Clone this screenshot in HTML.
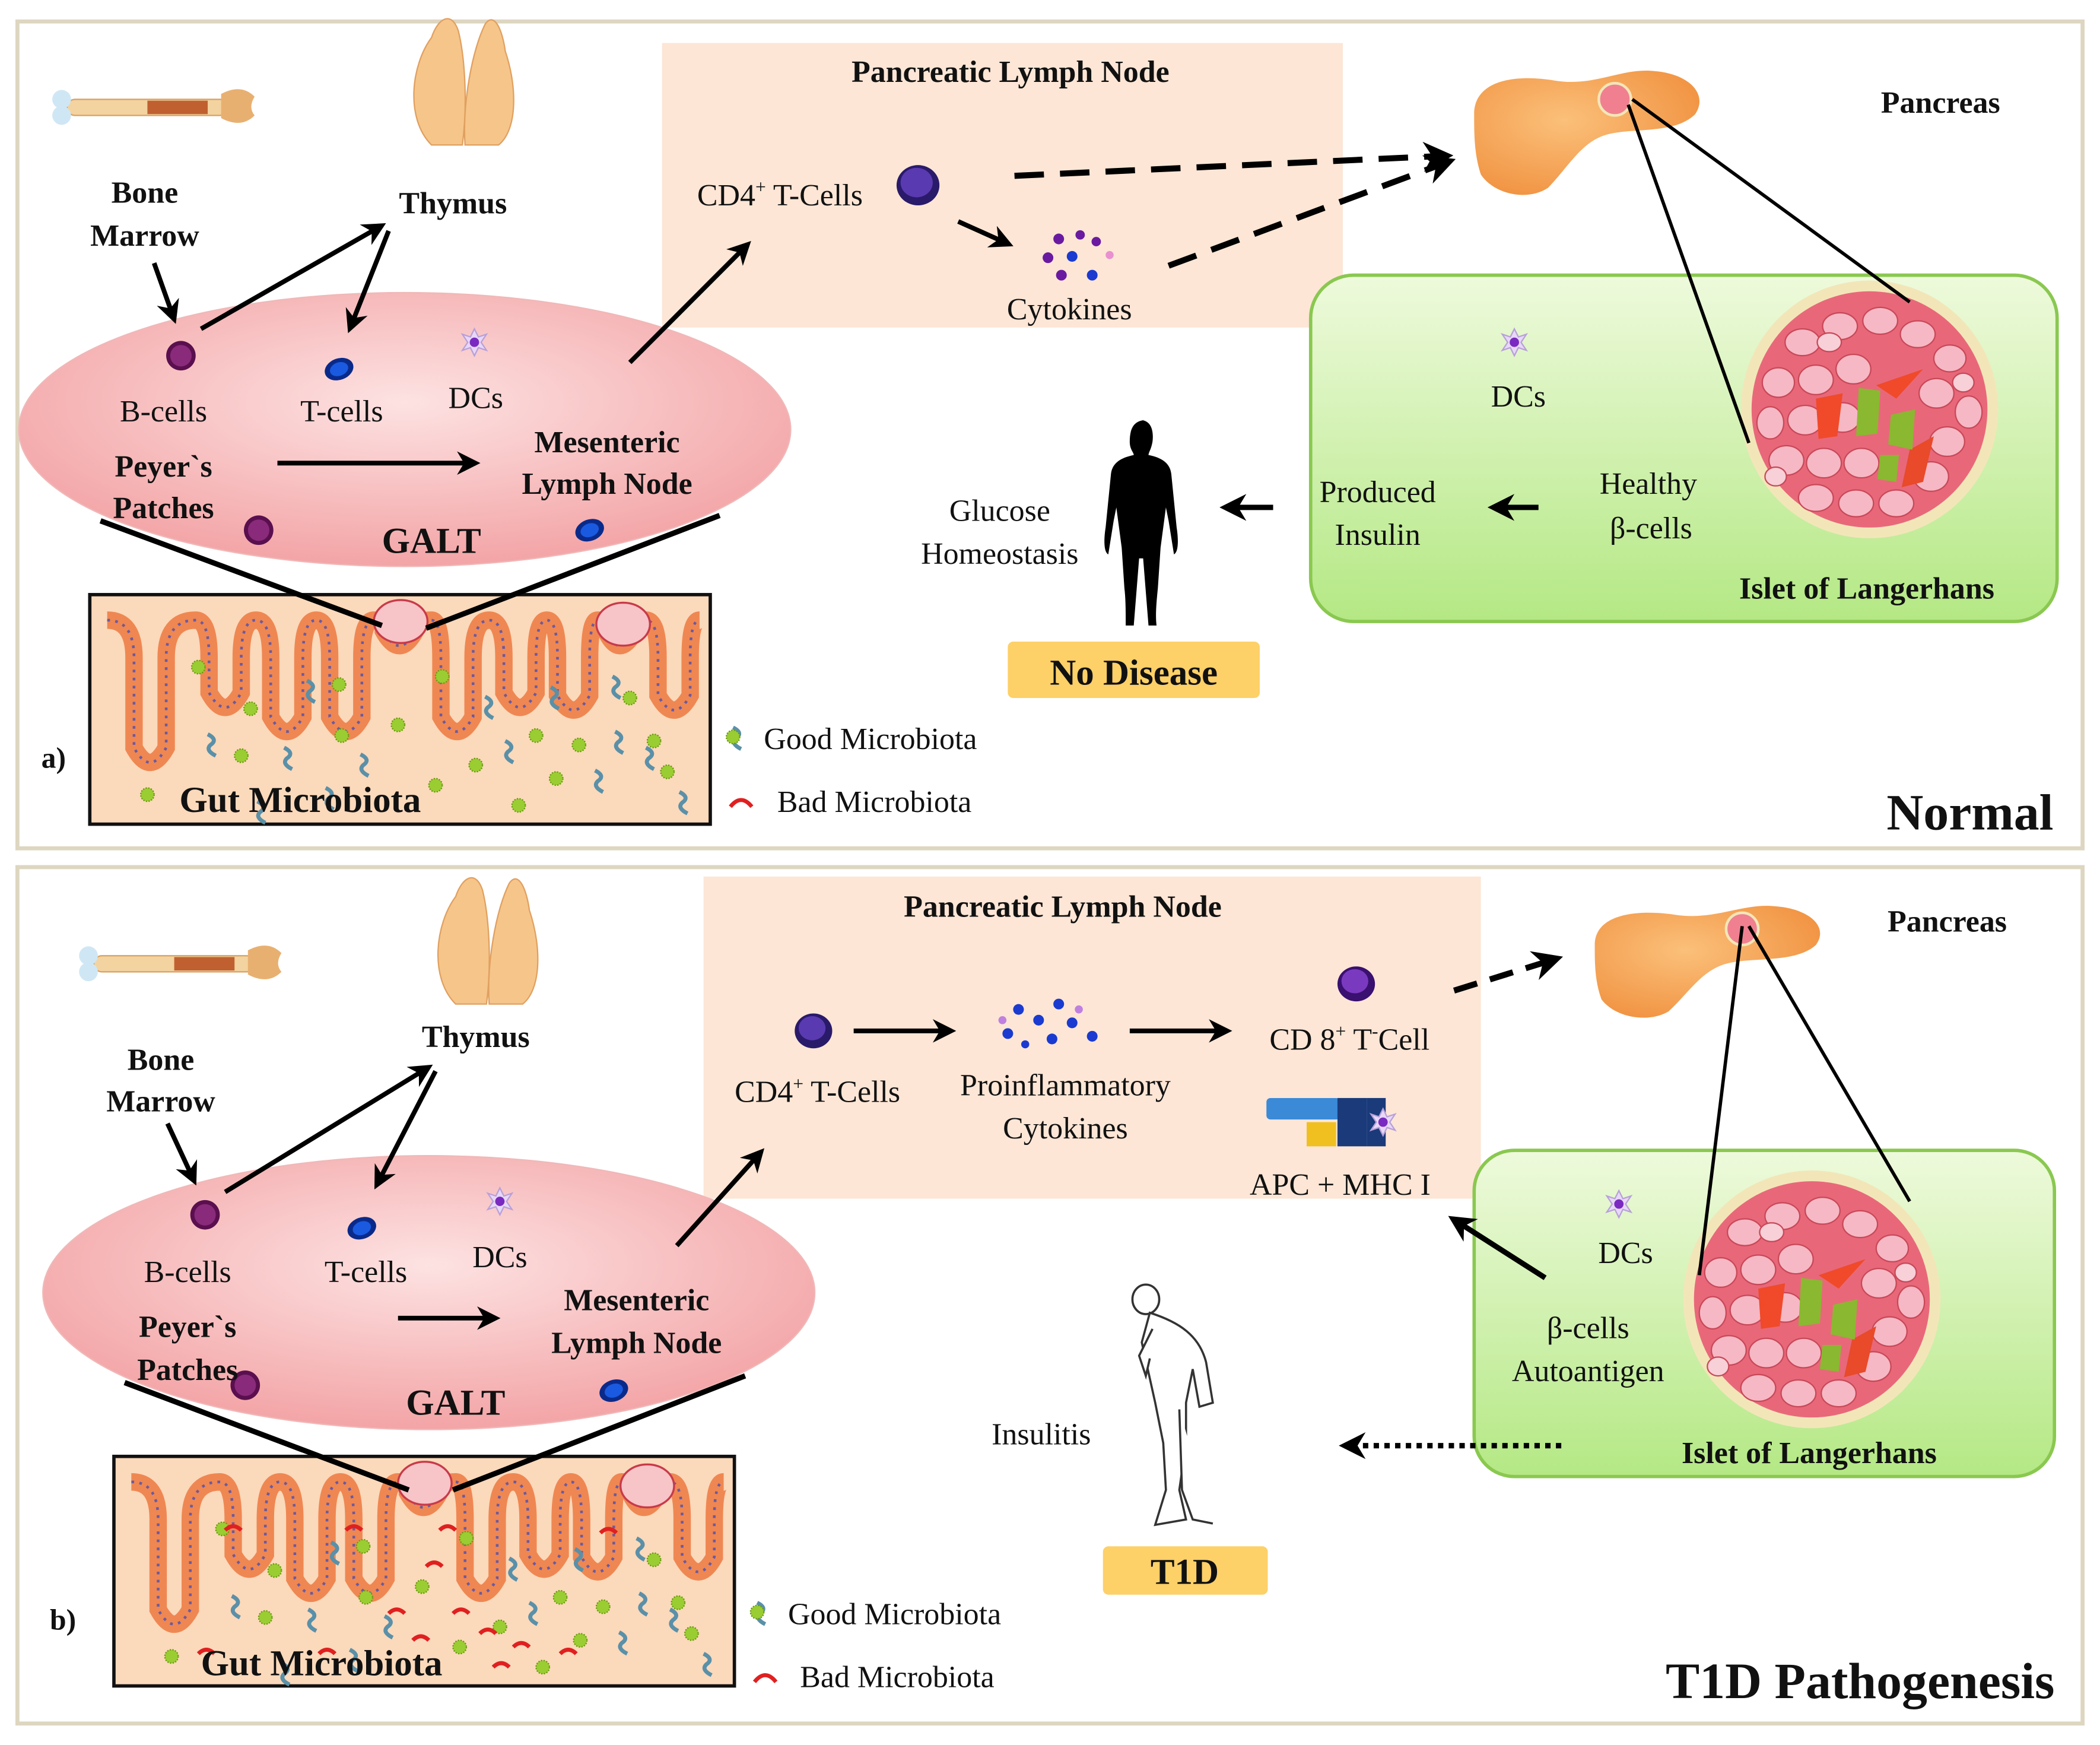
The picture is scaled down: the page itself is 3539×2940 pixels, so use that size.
<!DOCTYPE html>
<html><head><meta charset="utf-8"><style>
html,body{margin:0;padding:0;background:#fff;}
svg{display:block;}
text{font-family:"Liberation Serif",serif;fill:#111;}
.b{font-weight:bold;}
</style></head><body>
<svg width="3539" height="2940" viewBox="0 0 1567 1300" preserveAspectRatio="none" xmlns="http://www.w3.org/2000/svg">
<defs>
<marker id="ah" viewBox="0 0 10 10" refX="8" refY="5" markerWidth="5" markerHeight="5" orient="auto"><path d="M0,0 L10,5 L0,10 L3,5 z" fill="#000"/></marker>
<radialGradient id="galt" cx="50%" cy="40%" r="60%"><stop offset="0" stop-color="#fde2e2"/><stop offset="1" stop-color="#f3a4a6"/></radialGradient>
<linearGradient id="grn" x1="0" y1="0" x2="0" y2="1"><stop offset="0" stop-color="#eefadc"/><stop offset="1" stop-color="#b4e884"/></linearGradient>
<radialGradient id="pan" cx="40%" cy="40%" r="70%"><stop offset="0" stop-color="#fbc07a"/><stop offset="1" stop-color="#f0903e"/></radialGradient>
<g id="bone"><rect x="10" y="10" width="120" height="12" rx="6" fill="#f3d3a0" stroke="#d9a060"/><rect x="70" y="11" width="45" height="10" fill="#c06030"/><circle cx="6" cy="10" r="7" fill="#cfe7f5"/><circle cx="6" cy="22" r="7" fill="#cfe7f5"/><path d="M125,6 q15,-8 25,2 q-5,8 0,14 q-10,10 -25,2z" fill="#e8b070"/></g>
<g id="thymus"><path d="M15,100 C-5,80 0,40 15,20 C20,5 30,0 35,15 C40,35 42,70 38,100 Z" fill="#f6c58a" stroke="#e0a060"/><path d="M40,100 C38,70 45,30 55,10 C62,0 68,15 70,30 C80,60 78,90 65,100 Z" fill="#f6c58a" stroke="#e0a060"/></g>
<g id="bcell"><circle r="11" fill="#5a0f4e"/><circle r="8" fill="#8a2a7a"/></g>
<g id="tcell"><ellipse rx="11" ry="8" fill="#0a2a8a" transform="rotate(-20)"/><ellipse rx="7" ry="5" fill="#1a5ae0" transform="rotate(-20)"/></g>
<g id="dc"><path d="M0,-10 L3,-4 9,-6 5,0 9,6 3,4 0,10 -3,4 -9,6 -5,0 -9,-6 -3,-4z" fill="#e8d8f8" stroke="#b8a0d8"/><circle r="3.5" fill="#7a2ac0"/></g>
<g id="villi">
<path d="M80,462 Q100,462 100,490 L100,557 Q112,579 124,557 L124,490 Q124,462 146,462 Q156,462 156,490 L156,516 Q168,538 180,516 L180,490 Q180,462 191,462 Q202,462 202,490 L202,534 Q214,556 226,534 L226,490 Q226,462 236,462 Q246,462 246,490 L246,534 Q258,556 270,534 L270,490 Q270,462 279,462 Q286,462 286,470 Q298,492 310,470 Q310,462 322,462 Q329,462 329,490 L329,534 Q341,556 353,534 L353,490 Q353,462 365,462 Q376,462 376,490 L376,516 Q388,538 400,516 L400,490 Q400,462 408,462 Q416,462 416,490 L416,518 Q428,540 440,518 L440,490 Q440,462 446,462 Q452,462 452,470 Q462,492 474,470 Q474,462 482,462 Q491,462 491,490 L491,518 Q503,540 515,518 L515,490 Q515,462 522,462" fill="none" stroke="#ef8752" stroke-width="13"/>
<path d="M80,462 Q100,462 100,490 L100,557 Q112,579 124,557 L124,490 Q124,462 146,462 Q156,462 156,490 L156,516 Q168,538 180,516 L180,490 Q180,462 191,462 Q202,462 202,490 L202,534 Q214,556 226,534 L226,490 Q226,462 236,462 Q246,462 246,490 L246,534 Q258,556 270,534 L270,490 Q270,462 279,462 Q286,462 286,470 Q298,492 310,470 Q310,462 322,462 Q329,462 329,490 L329,534 Q341,556 353,534 L353,490 Q353,462 365,462 Q376,462 376,490 L376,516 Q388,538 400,516 L400,490 Q400,462 408,462 Q416,462 416,490 L416,518 Q428,540 440,518 L440,490 Q440,462 446,462 Q452,462 452,470 Q462,492 474,470 Q474,462 482,462 Q491,462 491,490 L491,518 Q503,540 515,518 L515,490 Q515,462 522,462" fill="none" stroke="#6a5aa0" stroke-width="2" stroke-dasharray="2 4"/>
<ellipse cx="299" cy="463" rx="20" ry="16" fill="#f7c4c8" stroke="#c83a4a" stroke-width="1.5"/>
<ellipse cx="465" cy="465" rx="20" ry="16" fill="#f7c4c8" stroke="#c83a4a" stroke-width="1.5"/>
</g>
<g id="g"><circle r="5" fill="#9acd32" stroke="#6a9a10" stroke-dasharray="1 1"/></g>
<g id="r"><path d="M-3,-8 q8,4 2,8 q-4,4 4,8" fill="none" stroke="#5a90a8" stroke-width="3"/></g>
<g id="microbes">
<use href="#g" x="148" y="497"/><use href="#g" x="187" y="528"/><use href="#g" x="253" y="510"/><use href="#g" x="255" y="548"/><use href="#g" x="297" y="540"/><use href="#g" x="325" y="585"/><use href="#g" x="355" y="570"/><use href="#g" x="387" y="600"/><use href="#g" x="415" y="580"/><use href="#g" x="432" y="555"/><use href="#g" x="470" y="520"/><use href="#g" x="488" y="552"/><use href="#g" x="498" y="575"/><use href="#g" x="180" y="563"/><use href="#g" x="110" y="592"/><use href="#g" x="330" y="504"/><use href="#g" x="400" y="548"/>
<use href="#r" x="232" y="515"/><use href="#r" x="158" y="555"/><use href="#r" x="215" y="565"/><use href="#r" x="272" y="570"/><use href="#r" x="365" y="527"/><use href="#r" x="414" y="520"/><use href="#r" x="460" y="512"/><use href="#r" x="462" y="553"/><use href="#r" x="447" y="582"/><use href="#r" x="510" y="598"/><use href="#r" x="380" y="560"/><use href="#r" x="246" y="595"/><use href="#r" x="195" y="605"/><use href="#r" x="485" y="565"/>
</g>
<g id="islet">
<circle r="96" fill="#f2e6b8"/><circle r="88" fill="#e8687a"/>
<g fill="#f6b8c4" stroke="#c84858" stroke-width="1">
<ellipse cx="-50" cy="-50" rx="13" ry="10"/><ellipse cx="-22" cy="-62" rx="13" ry="10"/><ellipse cx="8" cy="-66" rx="13" ry="10"/><ellipse cx="36" cy="-56" rx="13" ry="10"/><ellipse cx="60" cy="-38" rx="12" ry="10"/>
<ellipse cx="-68" cy="-20" rx="12" ry="11"/><ellipse cx="-40" cy="-22" rx="13" ry="11"/><ellipse cx="-12" cy="-30" rx="13" ry="11"/><ellipse cx="50" cy="-12" rx="13" ry="11"/><ellipse cx="74" cy="2" rx="10" ry="12"/>
<ellipse cx="-74" cy="10" rx="10" ry="12"/><ellipse cx="-48" cy="8" rx="13" ry="11"/><ellipse cx="-20" cy="6" rx="13" ry="11"/><ellipse cx="58" cy="24" rx="13" ry="11"/>
<ellipse cx="-62" cy="38" rx="13" ry="11"/><ellipse cx="-34" cy="40" rx="13" ry="11"/><ellipse cx="-6" cy="40" rx="13" ry="11"/><ellipse cx="46" cy="50" rx="13" ry="11"/>
<ellipse cx="-40" cy="66" rx="13" ry="10"/><ellipse cx="-10" cy="70" rx="13" ry="10"/><ellipse cx="20" cy="70" rx="13" ry="10"/>
</g>
<g fill="#f7d0d8" stroke="#c84858"><ellipse cx="-30" cy="-50" rx="9" ry="7"/><ellipse cx="-70" cy="50" rx="8" ry="7"/><ellipse cx="70" cy="-20" rx="8" ry="7"/></g>
<path d="M5,-18 L40,-30 20,-8 z" fill="#f04a2a"/><path d="M-40,-8 L-20,-12 -24,20 -38,22z" fill="#f04a2a"/><path d="M30,30 L48,20 40,54 24,58z" fill="#e84a2a"/>
<path d="M-8,-16 L8,-14 6,18 -10,20z" fill="#8ab830"/><path d="M16,4 L34,0 32,30 14,26z" fill="#8ab830"/><path d="M8,34 L22,34 20,54 6,52z" fill="#8ab830"/>
</g>
<path id="panc" d="M0,40 C0,15 30,10 60,15 C90,20 110,5 135,8 C160,10 175,25 165,40 C150,55 120,50 100,55 C80,60 70,80 55,95 C40,105 15,100 5,85 C0,70 0,55 0,40z"/>
</defs>

<!-- PANEL A -->
<rect x="13" y="16" width="1541" height="616" fill="#fff" stroke="#ddd6c0" stroke-width="3"/>
<rect x="494" y="32" width="508" height="212" fill="#fde6d6"/>
<use href="#bone" x="40" y="64"/>
<use href="#thymus" x="307" y="8"/>
<text x="108" y="151" font-size="23" text-anchor="middle" class="b">Bone</text>
<text x="108" y="183" font-size="23" text-anchor="middle" class="b">Marrow</text>
<text x="338" y="159" font-size="23" text-anchor="middle" class="b">Thymus</text>
<ellipse cx="302" cy="320" rx="288" ry="102" fill="url(#galt)" stroke="#f0b8b8"/>
<line x1="115" y1="196" x2="130" y2="238" stroke="#000" stroke-width="3.5" marker-end="url(#ah)"/>
<line x1="150" y1="245" x2="285" y2="168" stroke="#000" stroke-width="3.5" marker-end="url(#ah)"/>
<line x1="290" y1="172" x2="261" y2="245" stroke="#000" stroke-width="3.5" marker-end="url(#ah)"/>
<line x1="207" y1="345" x2="355" y2="345" stroke="#000" stroke-width="3.5" marker-end="url(#ah)"/>
<line x1="470" y1="270" x2="558" y2="182" stroke="#000" stroke-width="3.5" marker-end="url(#ah)"/>
<use href="#bcell" x="135" y="265"/><use href="#tcell" x="253" y="275"/><use href="#dc" x="354" y="255"/><use href="#bcell" x="193" y="395"/><use href="#tcell" x="440" y="395"/>
<text x="122" y="314" font-size="23" text-anchor="middle">B-cells</text>
<text x="255" y="314" font-size="23" text-anchor="middle">T-cells</text>
<text x="355" y="304" font-size="23" text-anchor="middle">DCs</text>
<text x="122" y="355" font-size="23" text-anchor="middle" class="b">Peyer`s</text>
<text x="122" y="386" font-size="23" text-anchor="middle" class="b">Patches</text>
<text x="453" y="337" font-size="23" text-anchor="middle" class="b">Mesenteric</text>
<text x="453" y="368" font-size="23" text-anchor="middle" class="b">Lymph Node</text>
<text x="322" y="412" font-size="27" text-anchor="middle" class="b">GALT</text>
<rect x="67" y="443" width="463" height="171" fill="#fbd9bb" stroke="#111" stroke-width="2.5"/>
<use href="#villi"/><use href="#microbes"/>
<line x1="75" y1="388" x2="285" y2="466" stroke="#000" stroke-width="4"/>
<line x1="537" y1="384" x2="318" y2="468" stroke="#000" stroke-width="4"/>
<text x="224" y="605" font-size="27" text-anchor="middle" class="b">Gut Microbiota</text>
<text x="40" y="572" font-size="22" text-anchor="middle" class="b">a)</text>
<use href="#r" x="550" y="550"/><use href="#g" x="547" y="549"/>
<text x="570" y="558" font-size="23">Good Microbiota</text>
<path d="M545,601 q8,-10 16,0" fill="none" stroke="#e02020" stroke-width="3"/>
<text x="580" y="605" font-size="23">Bad Microbiota</text>
<!-- PLN a -->
<text x="754" y="61" font-size="23" text-anchor="middle" class="b">Pancreatic Lymph Node</text>
<text x="582" y="153" font-size="23" text-anchor="middle">CD4<tspan font-size="14" dy="-9">+</tspan><tspan dy="9"> T-Cells</tspan></text>
<ellipse cx="685" cy="138" rx="16" ry="15" fill="#2a1a6a"/><ellipse cx="684" cy="136" rx="12" ry="11" fill="#5a3ab0"/>
<line x1="715" y1="165" x2="753" y2="182" stroke="#000" stroke-width="3.5" marker-end="url(#ah)"/>
<g fill="#6a1aa0"><circle cx="790" cy="178" r="4"/><circle cx="806" cy="175" r="3.5"/><circle cx="818" cy="180" r="3.5"/><circle cx="782" cy="192" r="4"/><circle cx="800" cy="191" r="4" fill="#1a3ad0"/><circle cx="815" cy="205" r="4" fill="#1a3ad0"/><circle cx="792" cy="205" r="4"/><circle cx="828" cy="190" r="3" fill="#e890d0"/></g>
<text x="798" y="238" font-size="23" text-anchor="middle">Cytokines</text>
<line x1="757" y1="131" x2="1080" y2="116" stroke="#000" stroke-width="4.5" stroke-dasharray="22 12" marker-end="url(#ah)"/>
<line x1="872" y1="198" x2="1082" y2="120" stroke="#000" stroke-width="4.5" stroke-dasharray="22 12" marker-end="url(#ah)"/>
<use href="#panc" x="1100" y="45" fill="url(#pan)"/>
<circle cx="1205" cy="74" r="12" fill="#f08090" stroke="#f2e6b8" stroke-width="2"/>
<text x="1448" y="84" font-size="23" text-anchor="middle" class="b">Pancreas</text>
<rect x="978" y="205" width="557" height="258" rx="32" fill="url(#grn)" stroke="#8ac850" stroke-width="2.5"/>
<use href="#islet" x="1395" y="305"/>
<line x1="1215" y1="78" x2="1305" y2="330" stroke="#000" stroke-width="2.5"/>
<line x1="1218" y1="74" x2="1425" y2="225" stroke="#000" stroke-width="2.5"/>
<use href="#dc" x="1130" y="255"/>
<text x="1133" y="303" font-size="23" text-anchor="middle">DCs</text>
<text x="1230" y="368" font-size="23" text-anchor="middle">Healthy</text>
<text x="1232" y="401" font-size="23" text-anchor="middle">β-cells</text>
<text x="1028" y="374" font-size="23" text-anchor="middle">Produced</text>
<text x="1028" y="406" font-size="23" text-anchor="middle">Insulin</text>
<text x="1393" y="446" font-size="23" text-anchor="middle" class="b">Islet of Langerhans</text>
<line x1="1148" y1="378" x2="1114" y2="378" stroke="#000" stroke-width="4" marker-end="url(#ah)"/>
<line x1="950" y1="378" x2="914" y2="378" stroke="#000" stroke-width="4" marker-end="url(#ah)"/>
<path d="M851,313 c8,0 10,8 9,16 c-1,6 -3,8 -3,10 c10,2 16,6 17,14 l4,40 c1,6 2,18 -2,20 l-4,-25 -2,-10 -4,30 -2,30 c-1,10 -2,20 -1,28 l-6,0 -4,-50 -3,0 -4,50 -6,0 c0,-10 0,-20 -1,-28 l-2,-30 -4,-30 -2,10 -4,25 c-4,-2 -3,-14 -2,-20 l4,-40 c1,-8 7,-12 17,-14 c0,-2 -3,-4 -3,-10 c0,-8 2,-16 12,-16z" fill="#000"/>
<text x="746" y="388" font-size="23" text-anchor="middle">Glucose</text>
<text x="746" y="420" font-size="23" text-anchor="middle">Homeostasis</text>
<rect x="752" y="478" width="188" height="42" rx="4" fill="#fdd068"/>
<text x="846" y="510" font-size="27" text-anchor="middle" class="b">No Disease</text>
<text x="1470" y="618" font-size="38" text-anchor="middle" class="b">Normal</text>

<!-- PANEL B -->
<rect x="13" y="646" width="1541" height="638" fill="#fff" stroke="#ddd6c0" stroke-width="3"/>
<rect x="525" y="653" width="580" height="240" fill="#fde6d6"/>
<use href="#bone" x="60" y="702"/>
<use href="#thymus" x="325" y="648"/>
<text x="120" y="797" font-size="23" text-anchor="middle" class="b">Bone</text>
<text x="120" y="828" font-size="23" text-anchor="middle" class="b">Marrow</text>
<text x="355" y="780" font-size="23" text-anchor="middle" class="b">Thymus</text>
<ellipse cx="320" cy="963" rx="288" ry="102" fill="url(#galt)" stroke="#f0b8b8"/>
<line x1="125" y1="837" x2="145" y2="880" stroke="#000" stroke-width="3.5" marker-end="url(#ah)"/>
<line x1="168" y1="888" x2="320" y2="795" stroke="#000" stroke-width="3.5" marker-end="url(#ah)"/>
<line x1="325" y1="798" x2="281" y2="883" stroke="#000" stroke-width="3.5" marker-end="url(#ah)"/>
<line x1="297" y1="982" x2="370" y2="982" stroke="#000" stroke-width="3.5" marker-end="url(#ah)"/>
<line x1="505" y1="928" x2="568" y2="858" stroke="#000" stroke-width="3.5" marker-end="url(#ah)"/>
<use href="#bcell" x="153" y="905"/><use href="#tcell" x="270" y="915"/><use href="#dc" x="373" y="895"/><use href="#bcell" x="183" y="1032"/><use href="#tcell" x="458" y="1036"/>
<text x="140" y="955" font-size="23" text-anchor="middle">B-cells</text>
<text x="273" y="955" font-size="23" text-anchor="middle">T-cells</text>
<text x="373" y="944" font-size="23" text-anchor="middle">DCs</text>
<text x="140" y="996" font-size="23" text-anchor="middle" class="b">Peyer`s</text>
<text x="140" y="1028" font-size="23" text-anchor="middle" class="b">Patches</text>
<text x="475" y="976" font-size="23" text-anchor="middle" class="b">Mesenteric</text>
<text x="475" y="1008" font-size="23" text-anchor="middle" class="b">Lymph Node</text>
<text x="340" y="1054" font-size="27" text-anchor="middle" class="b">GALT</text>
<g transform="translate(18,642)">
<rect x="67" y="443" width="463" height="171" fill="#fbd9bb" stroke="#111" stroke-width="2.5"/>
<use href="#villi"/><use href="#microbes"/>
<g fill="none" stroke="#e02020" stroke-width="3"><path d="M150,498 q6,-6 12,0"/><path d="M240,498 q6,-6 12,0"/><path d="M300,525 q6,-6 12,0"/><path d="M272,560 q6,-6 12,0"/><path d="M290,580 q6,-6 12,0"/><path d="M320,560 q6,-6 12,0"/><path d="M340,575 q6,-6 12,0"/><path d="M365,585 q6,-6 12,0"/><path d="M350,600 q6,-6 12,0"/><path d="M430,500 q6,-6 12,0"/><path d="M220,590 q6,-6 12,0"/><path d="M130,590 q6,-6 12,0"/><path d="M400,590 q6,-6 12,0"/><path d="M310,498 q6,-6 12,0"/></g>
</g>
<line x1="93" y1="1030" x2="305" y2="1110" stroke="#000" stroke-width="4"/>
<line x1="556" y1="1025" x2="338" y2="1110" stroke="#000" stroke-width="4"/>
<text x="240" y="1248" font-size="27" text-anchor="middle" class="b">Gut Microbiota</text>
<text x="47" y="1214" font-size="22" text-anchor="middle" class="b">b)</text>
<use href="#r" x="568" y="1202"/><use href="#g" x="565" y="1201"/>
<text x="588" y="1210" font-size="23">Good Microbiota</text>
<path d="M563,1253 q8,-10 16,0" fill="none" stroke="#e02020" stroke-width="3"/>
<text x="597" y="1257" font-size="23">Bad Microbiota</text>
<text x="793" y="683" font-size="23" text-anchor="middle" class="b">Pancreatic Lymph Node</text>
<ellipse cx="607" cy="768" rx="14" ry="13" fill="#2a1a6a"/><ellipse cx="606" cy="766" rx="10" ry="9" fill="#5a3ab0"/>
<line x1="637" y1="768" x2="710" y2="768" stroke="#000" stroke-width="3.5" marker-end="url(#ah)"/>
<g fill="#1a3ad0"><circle cx="760" cy="752" r="4"/><circle cx="775" cy="760" r="4"/><circle cx="790" cy="748" r="4"/><circle cx="800" cy="762" r="4"/><circle cx="752" cy="770" r="4"/><circle cx="785" cy="774" r="4"/><circle cx="815" cy="772" r="4"/><circle cx="765" cy="778" r="3"/><circle cx="748" cy="760" r="3" fill="#c080e0"/><circle cx="805" cy="752" r="3" fill="#c080e0"/></g>
<line x1="843" y1="768" x2="916" y2="768" stroke="#000" stroke-width="3.5" marker-end="url(#ah)"/>
<ellipse cx="1012" cy="733" rx="14" ry="13" fill="#3a1070"/><ellipse cx="1011" cy="731" rx="10" ry="9" fill="#7a3ac0"/>
<text x="1007" y="782" font-size="23" text-anchor="middle">CD 8<tspan font-size="14" dy="-9">+</tspan><tspan dy="9"> T</tspan><tspan font-size="14" dy="-9">-</tspan><tspan dy="9">Cell</tspan></text>
<text x="610" y="821" font-size="23" text-anchor="middle">CD4<tspan font-size="14" dy="-9">+</tspan><tspan dy="9"> T-Cells</tspan></text>
<text x="795" y="816" font-size="23" text-anchor="middle">Proinflammatory</text>
<text x="795" y="848" font-size="23" text-anchor="middle">Cytokines</text>
<rect x="945" y="818" width="55" height="16" rx="3" fill="#3a8ad8"/><rect x="975" y="836" width="22" height="18" fill="#f0c020"/><rect x="998" y="818" width="22" height="36" fill="#1a3a7a"/><rect x="1020" y="818" width="14" height="36" fill="#1a3a7a"/><use href="#dc" x="1032" y="836"/>
<text x="1000" y="890" font-size="23" text-anchor="middle">APC + MHC I</text>
<line x1="1085" y1="738" x2="1162" y2="714" stroke="#000" stroke-width="4.5" stroke-dasharray="18 10" marker-end="url(#ah)"/>
<use href="#panc" x="1190" y="668" fill="url(#pan)" transform="translate(1190,668) scale(1.0,0.9) translate(-1190,-668)"/>
<circle cx="1300" cy="692" r="12" fill="#f08090" stroke="#f2e6b8" stroke-width="2"/>
<text x="1453" y="694" font-size="23" text-anchor="middle" class="b">Pancreas</text>
<rect x="1100" y="857" width="433" height="243" rx="30" fill="url(#grn)" stroke="#8ac850" stroke-width="2.5"/>
<use href="#islet" x="1352" y="968"/>
<line x1="1300" y1="690" x2="1268" y2="950" stroke="#000" stroke-width="2.5"/>
<line x1="1305" y1="690" x2="1425" y2="895" stroke="#000" stroke-width="2.5"/>
<use href="#dc" x="1208" y="897"/>
<text x="1213" y="941" font-size="23" text-anchor="middle">DCs</text>
<text x="1185" y="997" font-size="23" text-anchor="middle">β-cells</text>
<text x="1185" y="1029" font-size="23" text-anchor="middle">Autoantigen</text>
<text x="1350" y="1090" font-size="23" text-anchor="middle" class="b">Islet of Langerhans</text>
<line x1="1153" y1="952" x2="1084" y2="908" stroke="#000" stroke-width="4" marker-end="url(#ah)"/>
<line x1="1165" y1="1077" x2="1003" y2="1077" stroke="#000" stroke-width="4" stroke-dasharray="4 4" marker-end="url(#ah)"/>
<g fill="#fff" stroke="#333" stroke-width="1.6">
<ellipse cx="855" cy="968" rx="10" ry="11"/>
<path d="M858,978 C880,985 895,995 900,1015 L905,1045 L895,1048 L890,1020 L885,1045 L885,1075 L880,1110 L885,1132 L862,1136 L870,1110 L868,1075 L862,1045 L852,1000 Z"/>
<path d="M880,1050 L882,1110 L890,1132 L905,1135"/>
<path d="M860,990 L850,1010 L855,1025 L858,1012"/>
</g>
<text x="777" y="1076" font-size="23" text-anchor="middle">Insulitis</text>
<rect x="823" y="1152" width="123" height="36" rx="4" fill="#fdd068"/>
<text x="884" y="1180" font-size="27" text-anchor="middle" class="b">T1D</text>
<text x="1388" y="1265" font-size="38" text-anchor="middle" class="b">T1D Pathogenesis</text>
</svg>
</body></html>
